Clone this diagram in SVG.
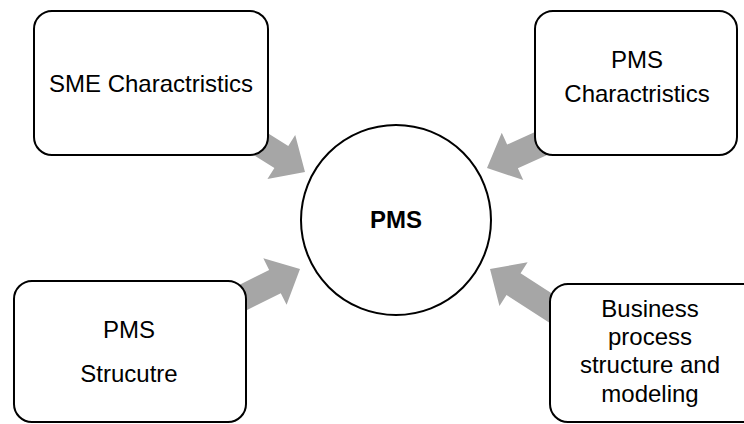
<svg xmlns="http://www.w3.org/2000/svg" width="744" height="424" viewBox="0 0 744 424">
  <defs>
    <!-- block arrow pointing along +x, tip at the origin -->
    <polygon id="block-arrow" points="0,0 -28,-26 -28,-13 -110,-13 -110,13 -28,13 -28,26"/>
    <style>
      .box { fill: #ffffff; stroke: #000000; stroke-width: 2; }
      .hub { fill: #ffffff; stroke: #000000; stroke-width: 2; }
      .arrow { fill: #a6a6a6; stroke: none; }
      .label { font-family: "Liberation Sans", Arial, sans-serif; font-size: 24px; fill: #000000; text-anchor: middle; }
      .hub-label { font-family: "Liberation Sans", Arial, sans-serif; font-size: 24px; font-weight: bold; fill: #000000; text-anchor: middle; }
    </style>
  </defs>
  <rect width="744" height="424" fill="#ffffff"/>

  <!-- connectors: grey block arrows running from each box into the hub -->
  <g id="connectors" class="arrow">
    <use href="#block-arrow" transform="translate(305,172) rotate(32.3)"/>
    <use href="#block-arrow" transform="translate(487,168) rotate(155.6)"/>
    <use href="#block-arrow" transform="translate(300,269) rotate(-26.6)"/>
    <use href="#block-arrow" transform="translate(490,269) rotate(-147.2)"/>
  </g>

  <g id="hub">
    <circle class="hub" cx="396" cy="220" r="95"/>
    <text class="hub-label" x="396" y="228">PMS</text>
  </g>

  <g id="sme-characteristics">
    <rect class="box" x="34" y="11" width="234" height="144" rx="18" ry="18"/>
    <text class="label" x="151" y="92">SME Charactristics</text>
  </g>

  <g id="pms-characteristics">
    <rect class="box" x="535" y="11" width="202" height="144" rx="18" ry="18"/>
    <text class="label" x="637" y="68">PMS</text>
    <text class="label" x="637" y="102">Charactristics</text>
  </g>

  <g id="pms-structure">
    <rect class="box" x="14" y="281" width="232" height="141" rx="18" ry="18"/>
    <text class="label" x="129" y="338">PMS</text>
    <text class="label" x="129" y="382">Strucutre</text>
  </g>

  <g id="business-process">
    <rect class="box" x="550" y="284" width="220" height="138" rx="18" ry="18"/>
    <text class="label" x="650" y="317">Business</text>
    <text class="label" x="650" y="345">process</text>
    <text class="label" x="650" y="373">structure and</text>
    <text class="label" x="650" y="402">modeling</text>
  </g>
</svg>
